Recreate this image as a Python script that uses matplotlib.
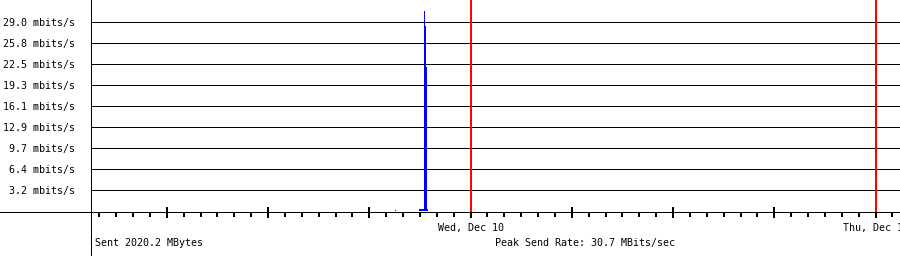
import numpy as np
import matplotlib
matplotlib.use('Agg')
import matplotlib.pyplot as plt
from matplotlib.lines import Line2D
from matplotlib.ticker import MultipleLocator

# send rate samples, hours relative to Wed Dec 10 00:00, Mbit/s
t_hours = [-4.47, -4.41, -3.08, -2.77, -2.70, -2.64, -2.575, -2.50]
rate = [0.12, 0.0, 0.17, 30.7, 28.4, 22.0, 0.17, 0.0]

grid_vals = [29.0 * k / 9 for k in range(1, 10)]
grid_labels = ['3.2 mbits/s', '6.4 mbits/s', '9.7 mbits/s', '12.9 mbits/s', '16.1 mbits/s',
               '19.3 mbits/s', '22.5 mbits/s', '25.8 mbits/s', '29.0 mbits/s']
day_hours = [0, 24]
day_labels = ['Wed, Dec 10', 'Thu, Dec 11']
sent_text = 'Sent 2020.2 MBytes'
peak_text = 'Peak Send Rate: 30.7 MBits/sec'

W, H = 900, 256
px = 0.72  # one pixel in points at dpi 100
fnt = dict(family='DejaVu Sans Mono', size=7.2, color='black')

fig = plt.figure(figsize=(W / 100, H / 100), dpi=100)
ax = fig.add_axes([90.5 / W, 44.5 / H, 809.5 / W, 211.5 / H])
ax.set_xlim(-22.52, 25.45)
ax.set_ylim(-0.15, 32.33)
for s in ax.spines.values():
    s.set_visible(False)

for v in grid_vals:
    ax.axhline(v, color='black', lw=px, zorder=1)
for d in day_hours:
    ax.axvline(d, color='#ff0000', lw=2 * px, zorder=2)

ax.fill_between(t_hours, rate, step='post', color='#0000ff', lw=0, zorder=3)

ax.set_yticks(grid_vals)
ax.set_yticklabels(grid_labels, **fnt)
ax.tick_params(axis='y', length=0, pad=11.5)

ax.xaxis.set_major_locator(MultipleLocator(6))
ax.xaxis.set_minor_locator(MultipleLocator(1))
ax.tick_params(axis='x', which='major', direction='inout', length=11 * px, width=2 * px,
               labelbottom=False)
ax.tick_params(axis='x', which='minor', direction='out', length=5 * px, width=2 * px)

for d, lab in zip(day_hours, day_labels):
    ax.text(d, -17 / 211.5 * 32.48, lab, ha='center', va='center', clip_on=False, **fnt)

# axis lines across the whole picture
fig.add_artist(Line2D([0, 1], [44.5 / H, 44.5 / H], color='black', lw=px))
fig.add_artist(Line2D([90.5 / W, 90.5 / W], [0, 1], color='black', lw=px))

fig.text(95 / W, 1 - 243 / H, sent_text, ha='left', va='center', **fnt)
fig.text(495 / W, 1 - 243 / H, peak_text, ha='left', va='center', **fnt)

fig.savefig('out.png', dpi=100, facecolor='white')
